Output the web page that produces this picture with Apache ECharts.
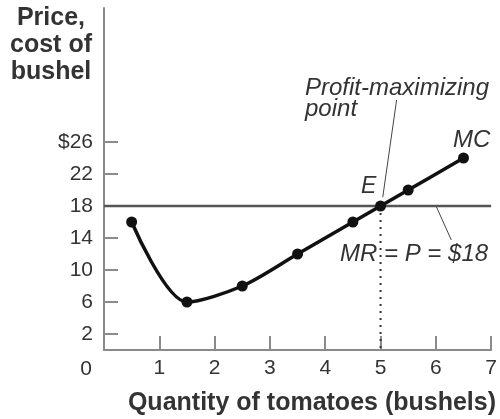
<!DOCTYPE html>
<html>
<head>
    <meta charset="utf-8" />
    <title>MC curve</title>
    <script src="https://cdn.jsdelivr.net/npm/echarts@6/dist/echarts.min.js"></script>
</head>
<body style="margin:0">
<div id="main" style="width: 500px;height:419px;"></div>
<script type="text/javascript">
    // data
    var mcQty = [0.5, 1.5, 2.5, 3.5, 4.5, 5, 5.5, 6.5];
    var mcCost = [16, 6, 8, 12, 16, 18, 20, 24];
    var price = 18;
    var eqQty = 5;
    var yTicks = [2, 6, 10, 14, 18, 22, 26];
    var xTicks = [1, 2, 3, 4, 5, 6, 7];

    var myChart = echarts.init(document.getElementById('main'));

    var mcData = mcQty.map(function (q, i) { return [q, mcCost[i]]; });
    var font = 'Liberation Sans, Arial, sans-serif';

    // little helper for the free text labels
    function label(x, y, text, f, align) {
        return {
            type: 'text', x: x, y: y,
            style: { text: text, font: f, fill: '#333', align: align || 'left', verticalAlign: 'middle' }
        };
    }

    var option = {
        animation: false,
        grid: { left: 104, right: 7, top: 8, bottom: 69 },
        xAxis: {
            type: 'value',
            min: 0, max: 7, interval: 1,
            axisLine: { lineStyle: { color: '#8a8a8a', width: 2 } },
            axisTick: { inside: true, length: 14, customValues: xTicks, lineStyle: { color: '#8a8a8a', width: 2 } },
            axisLabel: {
                customValues: xTicks, margin: 8,
                color: '#333', fontSize: 21, fontFamily: font
            },
            splitLine: { show: false }
        },
        yAxis: {
            type: 'value',
            min: 0, max: 42.75,
            axisLine: { show: true, lineStyle: { color: '#8a8a8a', width: 2 } },
            axisTick: { show: true, inside: true, length: 14, customValues: yTicks, lineStyle: { color: '#8a8a8a', width: 2 } },
            axisLabel: {
                customValues: yTicks, margin: 11,
                color: '#333', fontSize: 21, fontFamily: font,
                formatter: function (v) { return v === 26 ? '$' + v : String(v); }
            },
            splitLine: { show: false }
        },
        graphic: [
            label(51, 18, 'Price,', 'bold 25px ' + font, 'center'),
            label(51, 45, 'cost of', 'bold 25px ' + font, 'center'),
            label(51, 72, 'bushel', 'bold 25px ' + font, 'center'),
            label(92, 369, '0', '21px ' + font, 'right'),
            label(496, 403, 'Quantity of tomatoes (bushels)', 'bold 25px ' + font, 'right'),
            label(305, 88, 'Profit-maximizing', 'italic 24px ' + font),
            label(305, 109, 'point', 'italic 24px ' + font),
            label(453, 140, 'MC', 'italic 24px ' + font),
            label(361, 187, 'E', 'italic 23px ' + font),
            label(340, 254, 'MR = P = $18', 'italic 24px ' + font)
        ],
        series: [
            {
                // price line MR = P
                type: 'line',
                data: [[0, price], [7, price]],
                symbol: 'none',
                lineStyle: { color: '#555', width: 2.5 },
                z: 1
            },
            {
                // dotted drop line
                type: 'line',
                data: [[eqQty, price], [eqQty, 0]],
                symbol: 'none',
                lineStyle: { color: '#333', width: 2, type: [2, 5] },
                z: 1
            },
            {
                // leader lines
                type: 'line',
                data: [[5.29, 31.25], [5.04, 19.1]],
                symbol: 'none',
                lineStyle: { color: '#444', width: 1 },
                z: 1
            },
            {
                type: 'line',
                data: [[6.01, 17.9], [6.28, 13.75]],
                symbol: 'none',
                lineStyle: { color: '#444', width: 1 },
                z: 1
            },
            {
                name: 'MC',
                type: 'line',
                data: mcData,
                smooth: 0.3,
                symbol: 'circle',
                symbolSize: 11,
                itemStyle: { color: '#111' },
                lineStyle: { color: '#111', width: 3.5 },
                z: 3
            }
        ]
    };
    myChart.setOption(option);
</script>
</body>
</html>
